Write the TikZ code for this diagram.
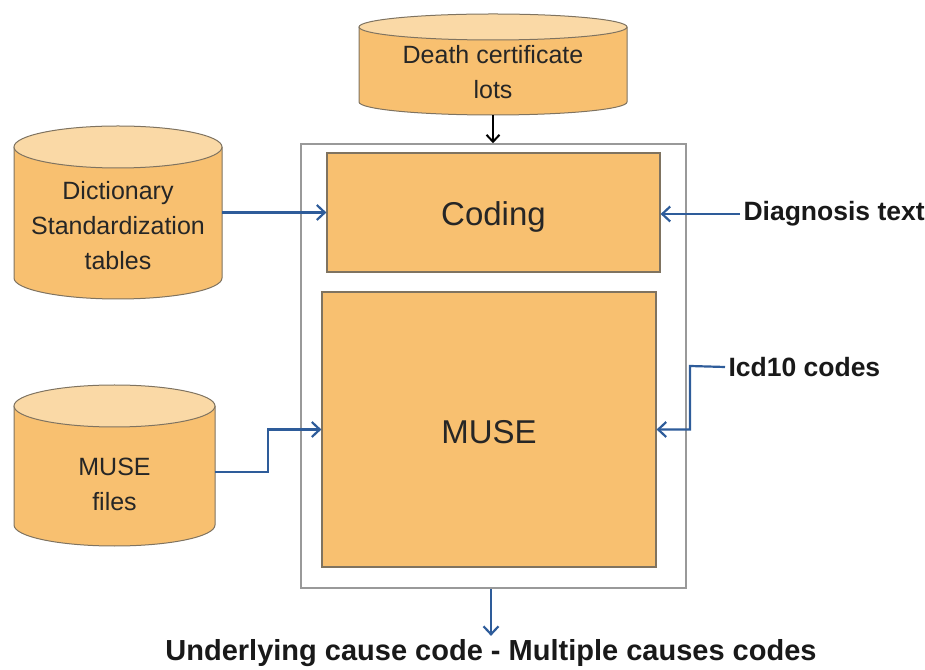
\documentclass[tikz,border=0pt]{standalone}
\usepackage{fontspec}
\setmainfont{Liberation Sans}
\usetikzlibrary{arrows.meta}
\definecolor{orfill}{HTML}{F8C070}
\definecolor{ortop}{HTML}{FAD9A6}
\definecolor{orline}{HTML}{7F7360}
\definecolor{arblue}{HTML}{2E5C9A}
\tikzset{
  procbox/.style={draw=orline, line width=1.2pt, fill=orfill, inner sep=0pt},
  outerbox/.style={draw=gray!80, line width=1.5pt, fill=white, inner sep=0pt},
  cyltext/.style={align=center, font=\fontsize{25}{35}\selectfont, text=black!85},
  bigtext/.style={font=\fontsize{33}{38}\selectfont, text=black!85},
  lbl/.style={font=\fontsize{26.5}{30}\selectfont\bfseries, text=black!90},
  flow/.style={draw=arblue, line width=2.2pt, -{Straight Barb[length=8pt,width=15pt,line width=2.2pt]}},
  blackflow/.style={draw=black, line width=2pt, -{Straight Barb[length=7pt,width=13pt,line width=2pt]}},
  ghost/.style={draw=none, inner sep=0pt}
}
\newcommand{\mycyl}[6]{% x1 x2 ytop ybot ry cx
  \fill[orfill] (#1,#3) -- (#1,#4) arc[start angle=180, end angle=360, x radius={(#2-#1)/2}, y radius=#5] -- (#2,#3) -- cycle;
  \draw[orline, line width=1pt] (#1,#3) -- (#1,#4) arc[start angle=180, end angle=360, x radius={(#2-#1)/2}, y radius=#5] -- (#2,#3);
  \draw[orline, line width=1pt, fill=ortop] (#6,#3) ellipse[x radius={(#2-#1)/2}, y radius=#5];
}
\begin{document}
\begin{tikzpicture}[x=1pt,y=1pt]
\useasboundingbox (0,0) rectangle (925,669);
% cylinders
\mycyl{359}{627}{642}{567}{13}{493}
\mycyl{14}{222}{522}{391}{21}{118}
\mycyl{14}{215}{263}{144}{21}{114.5}
\node[ghost, minimum width=268pt, minimum height=101pt] (dc) at (493,604.5) {};
\node[ghost, minimum width=208pt, minimum height=173pt] (dict) at (118,456.5) {};
\node[ghost, minimum width=201pt, minimum height=106pt] (mf) at (114.5,197) {};
\node[cyltext] (dctext) at (493,597) {Death certificate\\lots};
\node[cyltext] (dicttext) at (118,443) {Dictionary\\Standardization\\tables};
\node[cyltext] (mftext) at (114.5,185) {MUSE\\files};
% boxes
\node[outerbox, minimum width=385pt, minimum height=444pt] (outer) at (493.5,303) {};
\node[procbox, minimum width=333pt, minimum height=119pt] (coding) at (493.5,456.5) {};
\node[bigtext] (codingtext) at (493.5,452) {Coding};
\node[procbox, minimum width=334pt, minimum height=275pt] (muse) at (489,239.5) {};
\node[bigtext] (musetext) at (489,236.5) {MUSE};
% labels
\node[lbl, anchor=west] (diag) at (740,455) {Diagnosis text};
\node[lbl, anchor=west] (icd) at (725,302) {Icd10 codes};
\node[font=\fontsize{29}{32}\selectfont\bfseries, text=black!90] (out) at (491,16) {Underlying cause code - Multiple causes codes};
% connectors
\draw[blackflow] (dc.south) -- (outer.north -| dc.south);
\draw[flow] (dict.east) -- (coding.west |- dict.east);
\draw[flow] (diag.west) -- (coding.east |- diag.west);
\draw[flow] (mf.east) -- (268,197) -- (268,239.5) -- (muse.west);
\coordinate (icdbend) at (690,303);
\draw[flow] (icd.west) -- (icdbend) -- (690,239.5) -- (muse.east);
\draw[flow] (outer.south -| out.north) -- (out.north);
\end{tikzpicture}
\end{document}
